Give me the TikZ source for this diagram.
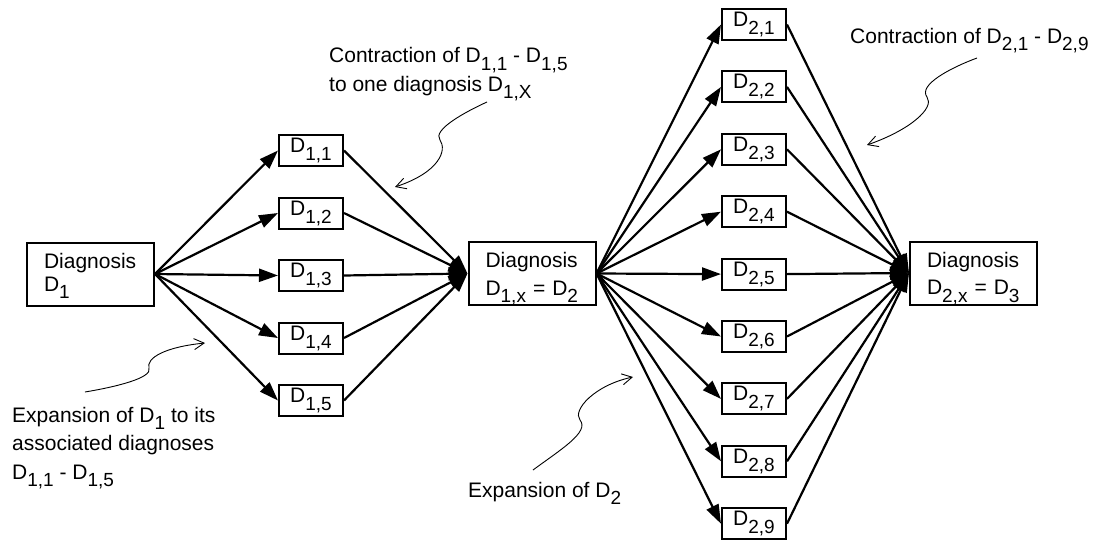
\documentclass[tikz,border=0pt]{standalone}
\usepackage{fontspec}
\setmainfont{Liberation Sans}
\usetikzlibrary{arrows.meta}
\newcommand\lo[1]{\raisebox{-0.38em}{\fontsize{19}{19}\selectfont #1}}
\tikzset{
  bigbox/.style={draw, line width=2pt, minimum width=127pt, minimum height=63pt,
    text width=93pt, inner xsep=17pt, inner ysep=0pt, align=left,
    text height=18pt, text depth=30pt, font=\fontsize{21}{27.5}\selectfont},
  smallbox/.style={draw, line width=2pt, minimum width=64pt, minimum height=31pt,
    inner sep=0pt, font=\fontsize{21}{21}\selectfont},
  note/.style={anchor=base west, align=left, inner sep=0pt,
    font=\fontsize{21}{28.5}\selectfont},
  mainarrow/.style={line width=2.2pt, -{Triangle[length=19pt,width=13pt]}},
  curl/.style={line width=0.9pt, -{Straight Barb[length=10pt,width=11pt]}}
}
\begin{document}
\begin{tikzpicture}[x=1pt,y=-1pt]
\useasboundingbox (0,0) rectangle (1093,539);
% main boxes
\node[bigbox, font=\fontsize{21}{23}\selectfont, text height=16pt, text depth=28pt] (D1) at (90.5,274) {Diagnosis\\D\lo{1}};
\node[bigbox] (D2) at (532,273.5) {Diagnosis\\D\lo{1,x} = D\lo{2}};
\node[bigbox] (D3) at (973.5,273) {Diagnosis\\D\lo{2,x} = D\lo{3}};
% associated diagnoses
\foreach \i in {1,...,5}{
  \node[smallbox] (a\i) at (311,{275.5+62.5*(\i-3)}) {D\lo{1,\i}};
}
\foreach \j in {1,...,9}{
  \node[smallbox] (b\j) at (754,{24.5+62.4*(\j-1)}) {D\lo{2,\j}};
}
\foreach \i in {1,...,5}{
  \draw[mainarrow] (D1.east) -- (a\i.west);
  \draw[mainarrow] (a\i.east) -- (D2.west);
}
\foreach \j in {1,...,9}{
  \draw[mainarrow] (D2.east) -- (b\j.west);
  \draw[mainarrow] (b\j.east) -- (D3.west);
}
% annotations (anchor = baseline of last line)
\node[note] (t1) at (329,91) {Contraction of D\lo{1,1} - D\lo{1,5}\\to one diagnosis D\lo{1,X}};
\node[note] (t2) at (850,43) {Contraction of D\lo{2,1} - D\lo{2,9}};
\node[note] (t3) at (12,479) {Expansion of D\lo{1} to its\\associated diagnoses\\D\lo{1,1} - D\lo{1,5}};
\node[note] (t4) at (468,497) {Expansion of D\lo{2}};
% curly pointers
\coordinate (c1s) at (487,102);
\coordinate (c1e) at (395,187);
\coordinate (c2s) at (977,58);
\coordinate (c2e) at (867,145);
\coordinate (c3s) at (85,392);
\coordinate (c3e) at (205,343);
\coordinate (c4s) at (533,470);
\coordinate (c4e) at (633,377);
\draw[curl] (c1s) .. controls (465,112) and (432,130) .. (440,140) .. controls (447,150) and (440,172) .. (c1e);
\draw[curl] (c2s) .. controls (950,68) and (918,85) .. (927,97) .. controls (935,108) and (910,130) .. (c2e);
\draw[curl] (c3s) .. controls (115,387) and (153,378) .. (149,368) .. controls (146,358) and (165,347) .. (c3e);
\draw[curl] (c4s) .. controls (560,450) and (590,432) .. (580,420) .. controls (572,410) and (595,385) .. (c4e);
\end{tikzpicture}
\end{document}
